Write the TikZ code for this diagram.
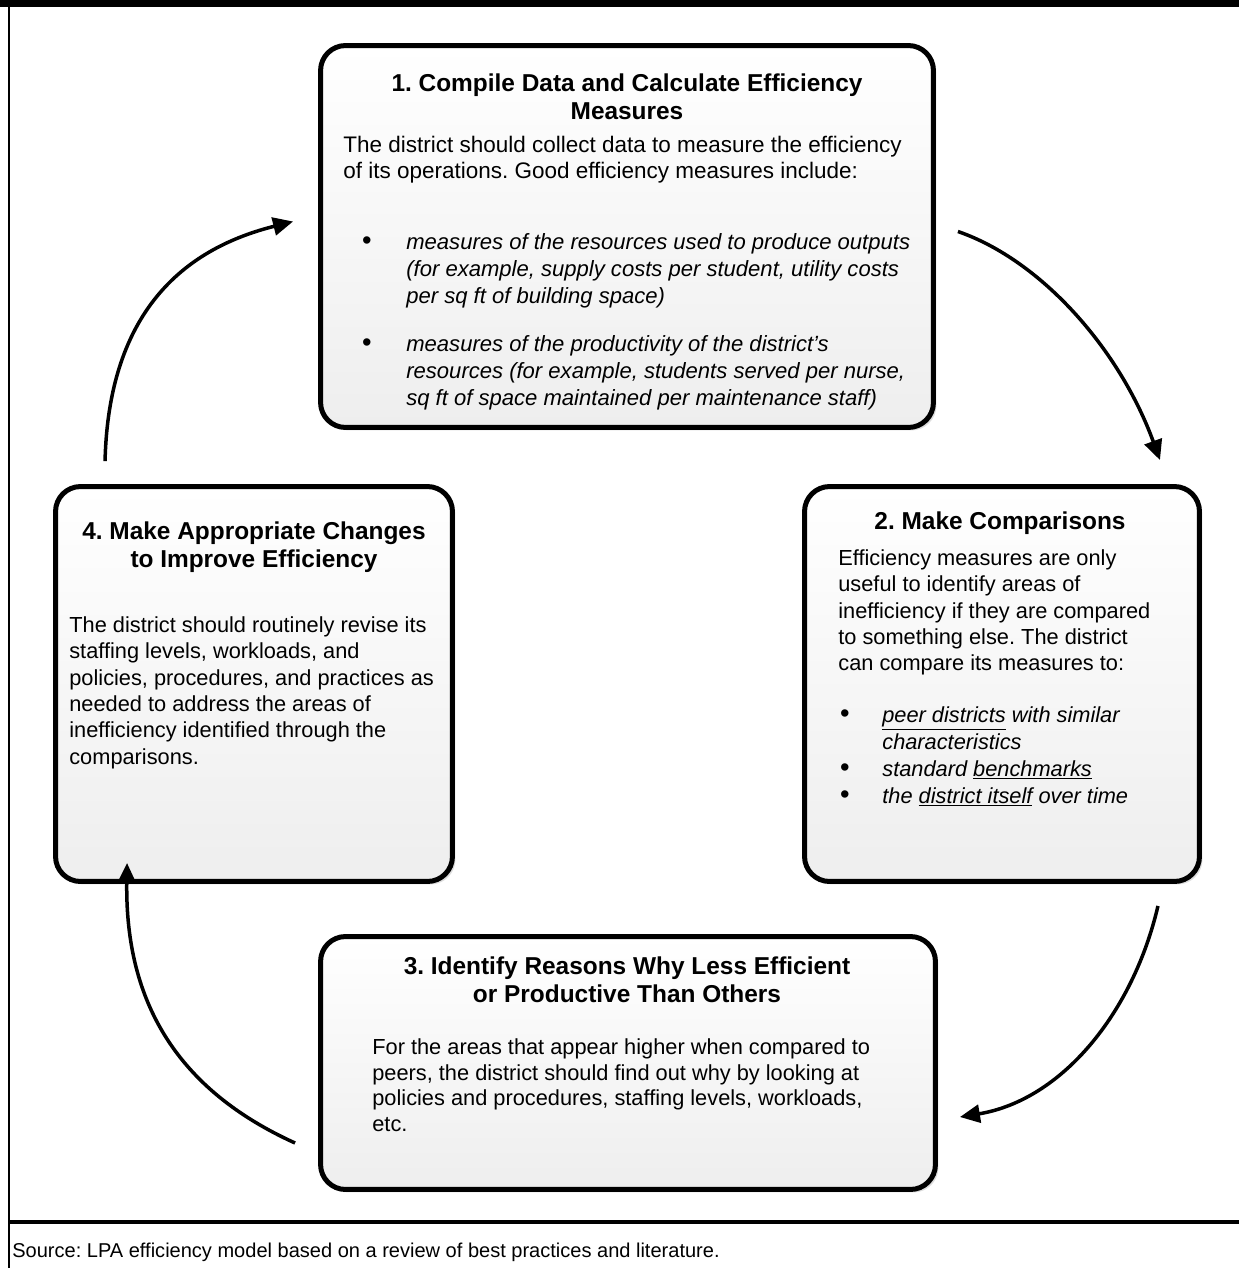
\documentclass[tikz,border=0pt]{standalone}
\usepackage{fontspec}
\setmainfont{Liberation Sans}
\usepackage{tikz}
\usetikzlibrary{shapes,arrows.meta,positioning,calc,shadows}
\definecolor{boxbottom}{RGB}{238,238,238}
\definecolor{shadowgray}{RGB}{170,170,170}
\frenchspacing

\begin{document}
\begin{tikzpicture}[
        x=0.02cm, y=-0.02cm,
        every node/.style={inner sep=0pt},
        stagebox/.style={rectangle, draw, rounded corners=0.5cm, line width=0.1cm, top color=white, bottom color=boxbottom, drop shadow={shadow xshift=0.06cm, shadow yshift=-0.06cm, opacity=0.4, fill=shadowgray}},
        title/.style={font=\bfseries\fontsize{13.9}{15.9}\selectfont, align=center, anchor=base},
        body/.style={font=\fontsize{12.4}{15}\selectfont, align=left, anchor=base west},
        blt/.style={font=\fontsize{15.5}{15}\selectfont, anchor=base},
        cycle/.style={-{Triangle[length=0.4cm,width=0.36cm]}, line width=0.07cm}
    ]
        \useasboundingbox (0,0) rectangle (1239,1268);

        % Frame and source line
        \fill (0,0) rectangle (1239,7);
        \draw[line width=0.06cm] (9,0) -- (9,1268);
        \draw[line width=0.08cm] (9,1222) -- (1239,1222);
        \node[anchor=base west, font=\fontsize{11.4}{13}\selectfont] (source) at (12,1257) {Source: LPA efficiency model based on a review of best practices and literature.};

        % Step 1: compile (multi-line nodes sit on their last baseline)
        \node[stagebox, minimum width=12.26cm, minimum height=7.64cm] (compile) at (627,236.5) {};
        \node[title] (compiletitle) at (627,119) {1. Compile Data and Calculate Efficiency\\Measures};
        \node[body, font=\fontsize{12.8}{15}\selectfont] (compiletext) at (343,178.5) {The district should collect data to measure the efficiency\\of its operations. Good efficiency measures include:};
        \node[blt] (dot1a) at (367,249) {\textbullet};
        \node[body, font=\itshape\fontsize{12.55}{15.5}\selectfont] (item1a) at (406,303.7) {measures of the resources used to produce outputs\\(for example, supply costs per student, utility costs\\per sq ft of building space)};
        \node[blt] (dot1b) at (367,351) {\textbullet};
        \node[body, font=\itshape\fontsize{12.55}{15.5}\selectfont] (item1b) at (406,405.7) {measures of the productivity of the district’s\\resources (for example, students served per nurse,\\sq ft of space maintained per maintenance staff)};

        % Step 2: compare
        \node[stagebox, minimum width=7.9cm, minimum height=7.9cm] (compare) at (1002,684) {};
        \node[title] (comparetitle) at (1000,529) {2. Make Comparisons};
        \node[body] (comparetext) at (838,670.8) {Efficiency measures are only\\useful to identify areas of\\inefficiency if they are compared\\to something else. The district\\can compare its measures to:};
        \node[blt] (dot2a) at (845,722) {\textbullet};
        \node[body, font=\itshape\fontsize{12.4}{15.3}\selectfont] (item2a) at (882,749) {\underline{peer districts} with similar\\characteristics};
        \node[blt] (dot2b) at (845,776) {\textbullet};
        \node[body, font=\itshape\fontsize{12.4}{15.3}\selectfont] (item2b) at (882,776) {standard \underline{benchmarks}};
        \node[blt] (dot2c) at (845,803) {\textbullet};
        \node[body, font=\itshape\fontsize{12.4}{15.3}\selectfont] (item2c) at (882,803) {the \underline{district itself} over time};

        % Step 3: identify
        \node[stagebox, minimum width=12.3cm, minimum height=5.06cm] (identify) at (628,1063) {};
        \node[title] (identifytitle) at (627,1002) {3. Identify Reasons Why Less Efficient\\or Productive Than Others};
        \node[body, font=\fontsize{12.4}{14.6}\selectfont] (identifytext) at (372,1131.3) {For the areas that appear higher when compared to\\peers, the district should find out why by looking at\\policies and procedures, staffing levels, workloads,\\etc.};

        % Step 4: improve
        \node[stagebox, minimum width=7.94cm, minimum height=7.9cm] (improve) at (254,684) {};
        \node[title, font=\bfseries\fontsize{13.9}{16.4}\selectfont] (improvetitle) at (254,567.9) {4. Make Appropriate Changes\\to Improve Efficiency};
        \node[body] (improvetext) at (69,764.3) {The district should routinely revise its\\staffing levels, workloads, and\\policies, procedures, and practices as\\needed to address the areas of\\inefficiency identified through the\\comparisons.};

        % Arrow ends
        \coordinate (outA) at ($(compile.east)+(22,-5)$);
        \coordinate (inA) at ($(compare.north east)+(-42,-24)$);
        \coordinate (outB) at ($(compare.south east)+(-44,22)$);
        \coordinate (inB) at ($(identify.east)+(22,54)$);
        \coordinate (outC) at ($(identify.west)+(-23,80)$);
        \coordinate (inC) at ($(improve.south west)+(74,-21)$);
        \coordinate (outD) at ($(improve.north west)+(52,-23)$);
        \coordinate (inD) at ($(compile.west)+(-25,-15)$);

        % Cycle arrows
        \draw[cycle] (outA) .. controls +(84,29) and +(-40,-110) .. (inA);
        \draw[cycle] (outB) .. controls +(-25,107) and +(102,-17) .. (inB);
        \draw[cycle] (outC) .. controls +(-117,-53) and +(-2,140) .. (inC);
        \draw[cycle] (outD) .. controls +(4,-163) and +(-95,24) .. (inD);
    \end{tikzpicture}
\end{document}
